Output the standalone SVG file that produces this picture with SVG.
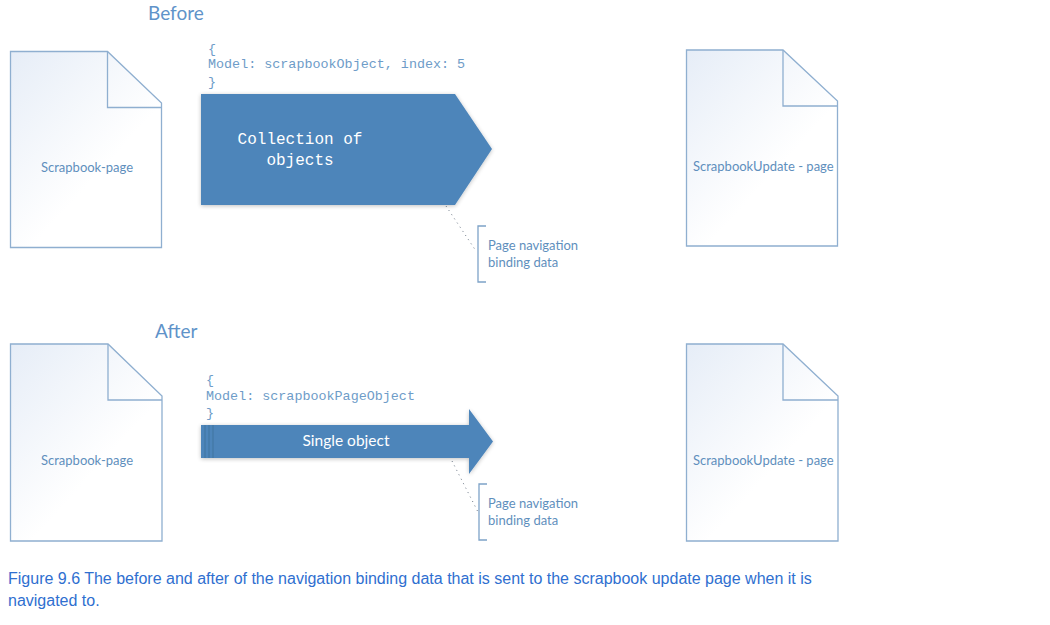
<svg xmlns="http://www.w3.org/2000/svg" width="1050" height="625" viewBox="0 0 1050 625">
<style>
.doc{fill:url(#pg);stroke:#8fafd0;stroke-width:1.3}
.fold{fill:none;stroke:#8fafd0;stroke-width:1.3}
.lab{font-family:"Lato","Open Sans",sans-serif;font-size:13px;fill:#5f8fbd}
.head{font-family:"Lato","Open Sans",sans-serif;font-size:19px;fill:#5f93c9}
.code{font-family:"Liberation Mono",monospace;font-size:13.4px;fill:#6e9cc8}
.big{font-family:"Liberation Mono",monospace;font-size:16px;fill:#fff;text-anchor:middle}
.cap{font-family:"Liberation Sans",Arial,sans-serif;font-size:16px;fill:#2f6fd0}
.dot{fill:none;stroke:#6b7785;stroke-width:1;stroke-dasharray:1 4}
.br{fill:none;stroke:#7ea3c8;stroke-width:1.3}
.ar{fill:#4d85ba}
</style>
<defs>
<linearGradient id="pg" x1="0" y1="0" x2="0.55" y2="0.65">
<stop offset="0" stop-color="#e6edf7"/><stop offset="1" stop-color="#ffffff"/>
</linearGradient>
<filter id="sh" x="-5%" y="-5%" width="110%" height="115%"><feGaussianBlur in="SourceAlpha" stdDeviation="2"/><feOffset dy="1"/><feComponentTransfer><feFuncA type="linear" slope="0.25"/></feComponentTransfer><feMerge><feMergeNode/><feMergeNode in="SourceGraphic"/></feMerge></filter>
</defs>
<rect width="1050" height="625" fill="#fff"/>
<text class="head" x="148" y="20">Before</text>
<text class="head" x="155" y="338">After</text>
<g id="doc-before-left">
<path class="doc" d="M10.5 51.5H107.5L161.5 103V247.5H10.5Z"/><path class="fold" d="M107.5 51.5V107.5H161.5"/>
<text class="lab" x="41" y="172">Scrapbook-page</text>
</g>
<g id="doc-before-right">
<path class="doc" d="M686.5 50H783L837.5 101V246H686.5Z"/><path class="fold" d="M783 50V106H837.5"/>
<text class="lab" x="693" y="171">ScrapbookUpdate - page</text>
</g>
<g id="doc-after-left">
<path class="doc" d="M10.5 344H108L162 396V541H10.5Z"/><path class="fold" d="M108 344V400H162"/>
<text class="lab" x="41" y="465">Scrapbook-page</text>
</g>
<g id="doc-after-right">
<path class="doc" d="M686.5 344H783L838 396V541H686.5Z"/><path class="fold" d="M783 344V400H838"/>
<text class="lab" x="693" y="465">ScrapbookUpdate - page</text>
</g>
<g id="connectors">
<path class="dot" d="M446 206L476 251"/>
<path class="dot" d="M452 461L478 512"/>
</g>
<g id="arrow-before">
<path class="ar" filter="url(#sh)" d="M201 94H455L492 149L455 205H201Z"/>
<text class="big" x="300" y="144">Collection of</text>
<text class="big" x="300" y="165">objects</text>
</g>
<g id="arrow-after">
<path class="ar" filter="url(#sh)" d="M201 425H469V409L493 441.500L469 474V458H201Z"/>
<path d="M205 425V458M209 425V458M213 425V458" stroke="#41749f" stroke-width="1" fill="none"/>
<text x="346" y="446" text-anchor="middle" style="font-family:Lato,'Open Sans',sans-serif;font-size:15.500px;fill:#fff">Single object</text>
</g>
<g id="code-before">
<text class="code" x="208" y="53">{</text>
<text class="code" x="208" y="68">Model: scrapbookObject, index: 5</text>
<text class="code" x="208" y="86">}</text>
</g>
<g id="code-after">
<text class="code" x="206" y="384">{</text>
<text class="code" x="206" y="400">Model: scrapbookPageObject</text>
<text class="code" x="206" y="417">}</text>
</g>
<g id="note-before">
<path class="br" d="M486 226H478V282H486"/>
<text class="lab" x="488" y="250">Page navigation</text>
<text class="lab" x="488" y="267">binding data</text>
</g>
<g id="note-after">
<path class="br" d="M487 484H479V540H487"/>
<text class="lab" x="488" y="508">Page navigation</text>
<text class="lab" x="488" y="525">binding data</text>
</g>
<text class="cap" x="8" y="584">Figure 9.6 The before and after of the navigation binding data that is sent to the scrapbook update page when it is</text>
<text class="cap" x="8" y="606">navigated to.</text>
</svg>
